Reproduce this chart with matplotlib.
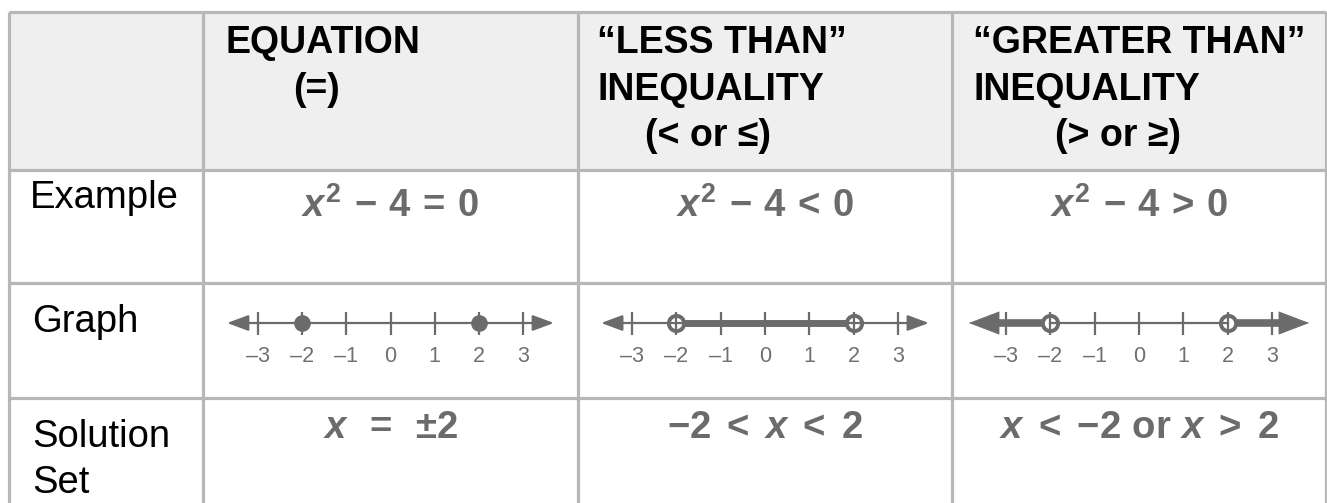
import matplotlib.pyplot as plt
from matplotlib.patches import Rectangle

plt.rcParams['font.family'] = ['Liberation Sans', 'DejaVu Sans']
plt.rcParams['mathtext.fontset'] = 'custom'
plt.rcParams['mathtext.rm'] = 'Liberation Sans:bold'
plt.rcParams['mathtext.bf'] = 'Liberation Sans:bold'
plt.rcParams['mathtext.it'] = 'Liberation Sans:italic:bold'

# --- data ---
headers = [['EQUATION', '(=)'],
           ['\u201cLESS THAN\u201d', 'INEQUALITY', '(< or \u2264)'],
           ['\u201cGREATER THAN\u201d', 'INEQUALITY', '(> or \u2265)']]
row_labels = [['Example'], ['Graph'], ['Solution', 'Set']]
examples = [r'$x^2\,-\,4\,=\,0$', r'$x^2\,-\,4\,<\,0$', r'$x^2\,-\,4\,>\,0$']
solutions = [r'$x\,\ =\ \,{\pm}2$', r'${-}2\;<\;x\;<\;2$',
             r'$x\;<\;{-}2\ \mathrm{or}\ x\;>\;2$']
tick_values = [-3, -2, -1, 0, 1, 2, 3]
points = [-2, 2]
filled = [True, False, False]
# thick shaded pieces of each graph (None = open ray to the arrow)
shaded = [[], [(-2, 2)], [(None, -2), (2, None)]]

# --- layout (pixels) ---
W, H = 1327, 503
col_x = [9, 203, 578, 952, 1326]
row_y = [12, 170, 283, 398]
border = '#b7b7b7'
gray = '#6b6b6b'
unit = 44.3

fig = plt.figure(figsize=(W / 100, H / 100), dpi=100)
ax = fig.add_axes([0, 0, 1, 1])
ax.set_xlim(0, W)
ax.set_ylim(H, 0)
ax.axis('off')

ax.add_patch(Rectangle((col_x[0], row_y[0]), col_x[-1] - col_x[0], row_y[1] - row_y[0],
                       facecolor='#efefef', edgecolor='none', zorder=0))
ax.hlines(row_y, col_x[0], col_x[-1], color=border, lw=2.3)
ax.vlines(col_x, row_y[0], H, color=border, lw=2.3)

# header text, one line at a time (left aligned like the source)
head_pos = [[(225, 53), (293, 100)],
            [(597, 53), (597, 100), (645, 146)],
            [(973, 53), (973, 100), (1055, 146)]]
for lines, pos in zip(headers, head_pos):
    for s, (x, y) in zip(lines, pos):
        ax.text(x, y, s, fontsize=27, fontweight='bold', color='black',
                ha='left', va='baseline')

# row labels
label_pos = [[(30, 208)], [(32, 332)], [(32, 447), (32, 493)]]
for lines, pos in zip(row_labels, label_pos):
    for s, (x, y) in zip(lines, pos):
        ax.text(x, y, s, fontsize=27.5, color='black', ha='left', va='baseline')

centers = [(col_x[i] + col_x[i + 1]) / 2 for i in range(1, 4)]
for cx, s in zip(centers, examples):
    ax.text(cx, 217, s, fontsize=27.5, color=gray, ha='center', va='baseline')
for cx, s in zip(centers, solutions):
    ax.text(cx, 438, s, fontsize=27.5, color=gray, ha='center', va='baseline')

# number lines, each in its own axes with x in number-line units
tips = [3.69, 3.7, 3.84]
axis_y = 323
for i, cx in enumerate(centers):
    half = 4.2
    nl = fig.add_axes([(cx - half * unit) / W, 1 - row_y[3] / H,
                       2 * half * unit / W, (row_y[3] - row_y[2]) / H])
    nl.set_xlim(-half, half)
    nl.set_ylim(-(row_y[3] - axis_y), axis_y - row_y[2])
    nl.axis('off')
    nl.patch.set_alpha(0)
    tip = tips[i]

    # thin axis line
    if i == 2:
        nl.plot([-2, 2], [0, 0], color=gray, lw=1.6, zorder=3)
    else:
        nl.annotate('', xy=(tip, 0), xytext=(-tip, 0),
                    arrowprops=dict(arrowstyle='<|-|>,head_length=1.3,head_width=0.48',
                                    mutation_scale=10, color=gray, lw=1.6,
                                    shrinkA=0, shrinkB=0), zorder=3)

    # thick shaded parts
    for a, b in shaded[i]:
        if a is None:
            nl.plot([-tip + 0.4, b], [0, 0], color=gray, lw=5.5, solid_capstyle='butt', zorder=1)
            nl.annotate('', xy=(-tip, 0), xytext=(-tip + 0.5, 0),
                        arrowprops=dict(arrowstyle='-|>,head_length=2.1,head_width=0.8',
                                        mutation_scale=10, color=gray, lw=0.5,
                                        shrinkA=0, shrinkB=0), zorder=1)
        elif b is None:
            nl.plot([a, tip - 0.4], [0, 0], color=gray, lw=5.5, solid_capstyle='butt', zorder=1)
            nl.annotate('', xy=(tip, 0), xytext=(tip - 0.5, 0),
                        arrowprops=dict(arrowstyle='-|>,head_length=2.1,head_width=0.8',
                                        mutation_scale=10, color=gray, lw=0.5,
                                        shrinkA=0, shrinkB=0), zorder=1)
        else:
            nl.plot([a, b], [0, 0], color=gray, lw=5, solid_capstyle='butt', zorder=1)

    # ticks and labels
    nl.vlines(tick_values, -11.5, 11.5, color=gray, lw=1.6, zorder=3)
    for v in tick_values:
        nl.text(v, -34, str(v).replace('-', '\u2013'), fontsize=15.5, color='#707070',
                ha='center', va='center', fontfamily='Liberation Sans')

    # endpoints
    if filled[i]:
        nl.plot(points, [0, 0], 'o', color=gray, ms=11, zorder=4)
    else:
        nl.plot(points, [0, 0], 'o', mfc='white', mec=gray, mew=2.8, ms=11, zorder=2)

fig.savefig('out.png', dpi=100)
